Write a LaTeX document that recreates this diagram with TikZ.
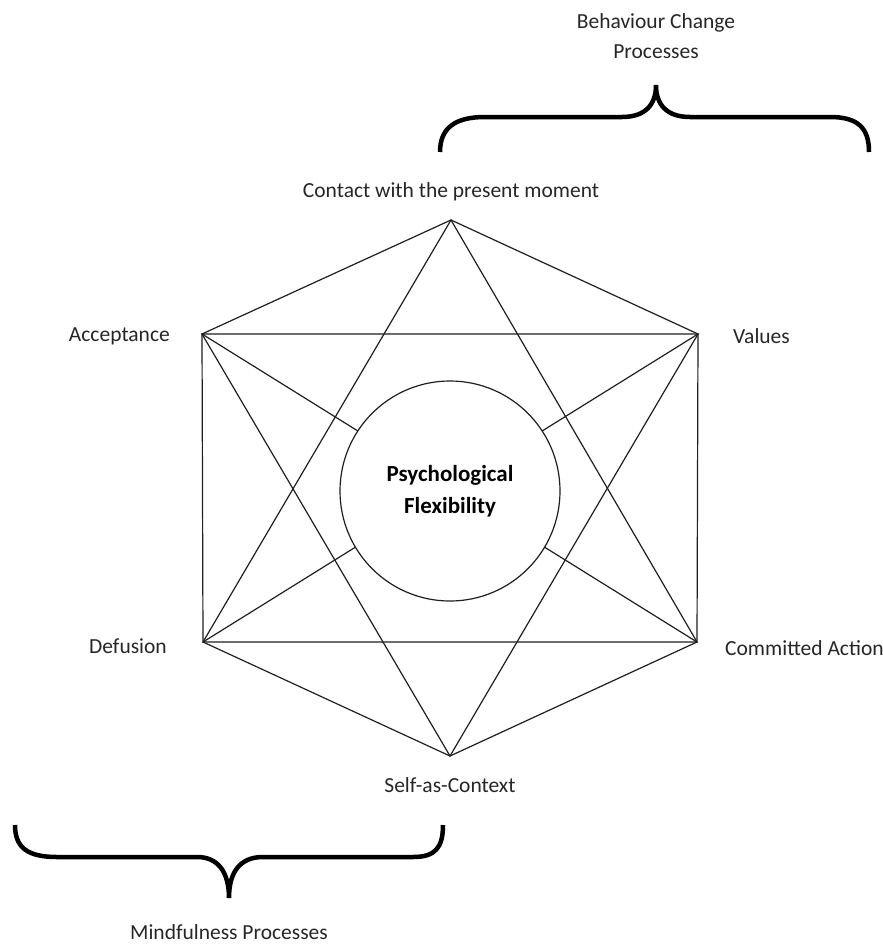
\documentclass[tikz,border=0pt]{standalone}
\usepackage{fontspec}
\setmainfont{Carlito}
\usetikzlibrary{positioning}

\begin{document}
\begin{tikzpicture}[x=1pt,y=-1pt,
    lbl/.style={inner sep=0pt, text=black!85, font=\fontsize{21.5}{30}\selectfont},
    edge/.style={line width=1.2pt, draw=black!88},
    bracket/.style={line width=4.5pt, draw=black}]
    \useasboundingbox (0,0) rectangle (883,945);

    % corners of the hexagon
    \coordinate (top) at (451,220);
    \coordinate (ur) at (698,334);
    \coordinate (lr) at (697,642);
    \coordinate (bot) at (450,756);
    \coordinate (ll) at (203,642);
    \coordinate (ul) at (202,334);

    \draw[edge] (top) -- (ur) -- (lr) -- (bot) -- (ll) -- (ul) -- cycle;
    \draw[edge] (top) -- (ll) -- (lr) -- cycle;
    \draw[edge] (bot) -- (ul) -- (ur) -- cycle;
    \draw[edge] (ul) -- (lr);
    \draw[edge] (ur) -- (ll);

    \node [circle, draw=black!88, line width=1.2pt, fill=white, minimum size=220pt, inner sep=0pt,
        align=center, text=black, font=\fontsize{23}{32}\selectfont\bfseries] (pf) at (450,491) {Psychological\\Flexibility};

    \node [lbl, above=19pt of top] (cpm) {Contact with the present moment};
    \node [lbl, left=32pt of ul, yshift=-2pt] (acc) {Acceptance};
    \node [lbl, right=35pt of ur, yshift=-2pt] (val) {Values};
    \node [lbl, left=36pt of ll, yshift=-4pt] (def) {Defusion};
    \node [lbl, right=28pt of lr, yshift=-6pt] (ca) {Committed Action};
    \node [lbl, below=21pt of bot] (sac) {Self-as-Context};

    % braces
    \coordinate (bctip) at (656,85);
    \coordinate (mftip) at (229,898);
    \draw[bracket] (440,152) .. controls (440,128) and (455,117) .. (485,117) -- (622,117)
        .. controls (645,117) and (656,105) .. (bctip)
        .. controls (656,105) and (667,117) .. (690,117) -- (830,117)
        .. controls (858,117) and (869,128) .. (869,152);
    \draw[bracket] (15,825) .. controls (15,848) and (28,857) .. (57,857) -- (197,857)
        .. controls (218,857) and (229,872) .. (mftip)
        .. controls (229,872) and (240,857) .. (263,857) -- (413,857)
        .. controls (435,857) and (443,848) .. (443,825);

    \node [lbl, align=center, above=26pt of bctip] (bcp) {Behaviour Change\\Processes};
    \node [lbl, below=26pt of mftip] (mfp) {Mindfulness Processes};
\end{tikzpicture}
\end{document}
